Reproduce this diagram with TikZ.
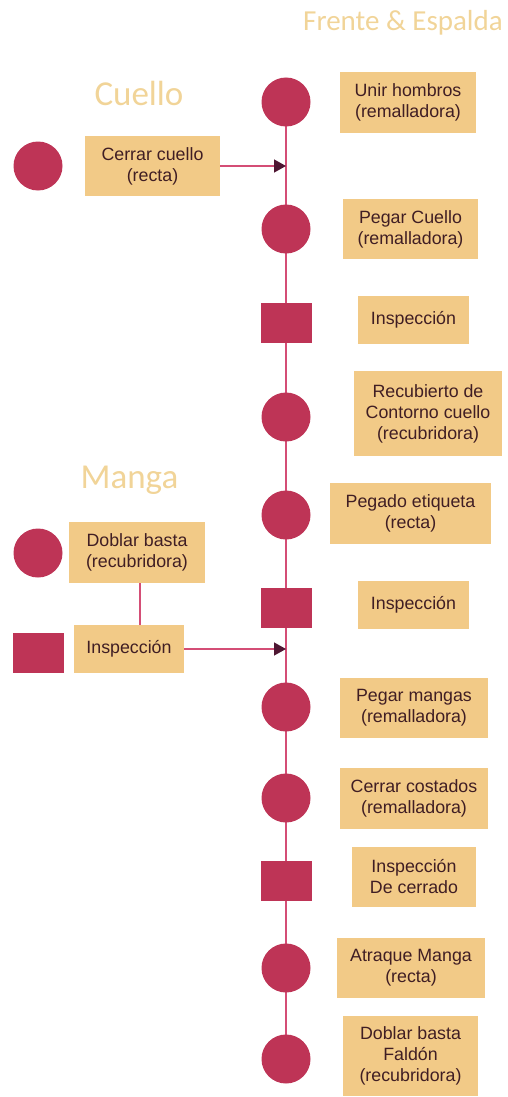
\documentclass[tikz,border=0pt]{standalone}
\usepackage{fontspec}
\setmainfont{Liberation Sans}
\newfontfamily\labfont{Carlito}
\usetikzlibrary{arrows.meta,backgrounds}
\definecolor{dotred}{RGB}{190,52,86}
\definecolor{boxtan}{RGB}{242,202,135}
\definecolor{txtbrown}{RGB}{64,30,36}
\definecolor{lab}{RGB}{241,212,152}
\definecolor{linepink}{RGB}{212,78,118}
\definecolor{tipdark}{RGB}{78,22,50}
\begin{document}
\begin{tikzpicture}[x=1pt,y=-1pt,
  dot/.style={circle,fill=dotred,draw=none,minimum size=49pt,inner sep=0pt},
  sq/.style={rectangle,fill=dotred,draw=none,minimum width=51pt,minimum height=40pt,inner sep=0pt},
  task/.style={rectangle,fill=boxtan,draw=none,inner sep=0pt,align=center,text=txtbrown,
    font=\fontsize{17.8pt}{21pt}\selectfont},
  sect/.style={text=lab,inner sep=0pt},
  flow/.style={linepink,line width=1.4pt},
  feed/.style={linepink,line width=1.4pt,-{Triangle[length=12pt,width=13pt,color=tipdark]}}]
\useasboundingbox (0,0) rectangle (508,1097);
% section labels
\node[sect,font=\labfont\fontsize{29pt}{32pt}\selectfont] (tFE) at (403,23) {Frente \& Espalda};
\node[sect,font=\labfont\fontsize{35pt}{38pt}\selectfont] (tCu) at (139,93) {Cuello};
\node[sect,font=\labfont\fontsize{35pt}{38pt}\selectfont] (tMa) at (129.5,480) {Manga};
% main column symbols
\node[dot] (C1) at (286,102) {};
\node[dot] (C2) at (286,229) {};
\node[sq]  (S1) at (286.5,323) {};
\node[dot] (C3) at (286,417) {};
\node[dot] (C4) at (286,515) {};
\node[sq]  (S2) at (286.5,608) {};
\node[dot] (C5) at (286,707) {};
\node[dot] (C6) at (286,798) {};
\node[sq]  (S3) at (286.5,881) {};
\node[dot] (C7) at (286,968) {};
\node[dot] (C8) at (286,1059) {};
% left symbols
\node[dot] (CL1) at (38,166) {};
\node[dot] (CL2) at (38,553) {};
\node[sq]  (SL)  at (38,653) {};
% task boxes
\node[task,minimum width=136pt,minimum height=61pt] (B1) at (408,102.5) {Unir hombros\\(remalladora)};
\node[task,minimum width=135pt,minimum height=60pt] (B0) at (152.5,166) {Cerrar cuello\\(recta)};
\node[task,minimum width=135pt,minimum height=60pt] (B2) at (410.5,229) {Pegar Cuello\\(remalladora)};
\node[task,minimum width=111pt,minimum height=48pt] (B3) at (413.5,320) {Inspección};
\node[task,minimum width=148pt,minimum height=85pt] (B4) at (428,413.5) {Recubierto de\\Contorno cuello\\(recubridora)};
\node[task,minimum width=161pt,minimum height=61pt] (B5) at (410.5,513.5) {Pegado etiqueta\\(recta)};
\node[task,minimum width=136pt,minimum height=61pt] (BL1) at (137,552.5) {Doblar basta\\(recubridora)};
\node[task,minimum width=111pt,minimum height=48pt] (B6) at (413.5,605) {Inspección};
\node[task,minimum width=110pt,minimum height=48pt] (BL2) at (129,649) {Inspección};
\node[task,minimum width=148pt,minimum height=60pt] (B7) at (414,708) {Pegar mangas\\(remalladora)};
\node[task,minimum width=148pt,minimum height=61pt] (B8) at (414,798.5) {Cerrar costados\\(remalladora)};
\node[task,minimum width=124pt,minimum height=60pt] (B9) at (414,877) {Inspección\\De cerrado};
\node[task,minimum width=148pt,minimum height=60pt] (B10) at (411,968) {Atraque Manga\\(recta)};
\node[task,minimum width=135pt,minimum height=80pt] (B11) at (410.5,1056) {Doblar basta\\Faldón\\(recubridora)};
% connectors
\coordinate (J1) at (286,166);
\coordinate (J2) at (286,649);
\coordinate (MX) at (140,0);
\begin{pgfonlayer}{background}
\draw[flow] (C1.center) -- (C8.center);
\end{pgfonlayer}
\draw[feed] (B0.east) -- (J1);
\draw[feed] (BL2.east |- J2) -- (J2);
\draw[flow] (BL1.south -| MX) -- (BL2.north -| MX);
\end{tikzpicture}
\end{document}
